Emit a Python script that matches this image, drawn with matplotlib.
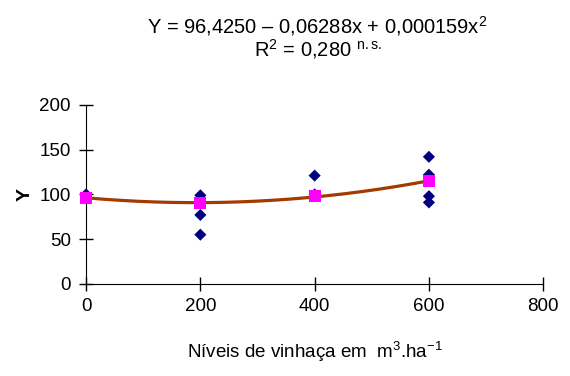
import numpy as np
import matplotlib
matplotlib.use("Agg")
import matplotlib.pyplot as plt

plt.rcParams['font.family'] = ['Liberation Sans', 'DejaVu Sans']
plt.rcParams['mathtext.fontset'] = 'custom'
plt.rcParams['mathtext.rm'] = 'Liberation Sans'
plt.rcParams['mathtext.it'] = 'Liberation Sans'

# Observacoes individuais (losangos)
obs_x = [0, 200, 200, 200, 400, 400, 600, 600, 600, 600]
obs_y = [100, 99, 77, 55, 121, 100, 142, 122, 98, 91]

# Medias por nivel (quadrados)
niveis = [0, 200, 400, 600]
medias = [96.4, 90.2, 97.7, 115.0]

fig = plt.figure(figsize=(5.7, 3.76), dpi=100)
ax = fig.add_axes([0.151, 0.245, 0.802, 0.476])

# Curva de tendencia polinomial (grau 2) ajustada as medias
coef = np.polyfit(niveis, medias, 2)
xs = np.linspace(min(niveis), max(niveis), 200)
ax.plot(xs, np.polyval(coef, xs), color='#a33a00', lw=2.3, zorder=2)

ax.scatter(obs_x, obs_y, marker='D', s=38, color='#000080', zorder=3,
           clip_on=False, edgecolors='none')
ax.scatter(niveis, medias, marker='s', s=75, color='#ff00ff', zorder=4,
           clip_on=False, edgecolors='none')

ax.set_xlim(0, 800)
ax.set_ylim(0, 200)
ax.set_xticks([0, 200, 400, 600, 800])
ax.set_yticks([0, 50, 100, 150, 200])
for s in ['top', 'right']:
    ax.spines[s].set_visible(False)
ax.tick_params(direction='inout', length=10, width=1, labelsize=13.5)
ax.tick_params(axis='y', pad=6)
ax.tick_params(axis='x', pad=5)

ax.set_ylabel('Y', fontsize=14, fontweight='bold', labelpad=4)
ax.set_xlabel(r'Níveis de vinhaça em  m$^{3}$.ha$^{-1}$', fontsize=13.5,
              labelpad=18)

fig.text(0.557, 0.912, 'Y = 96,4250 – 0,06288x + 0,000159x$^{2}$',
         ha='center', va='baseline', fontsize=14.5)
fig.text(0.557, 0.851, 'R$^{2}$ = 0,280 $^{\\mathrm{n.s.}}$',
         ha='center', va='baseline', fontsize=14.5)

fig.savefig('out.png', dpi=100)
